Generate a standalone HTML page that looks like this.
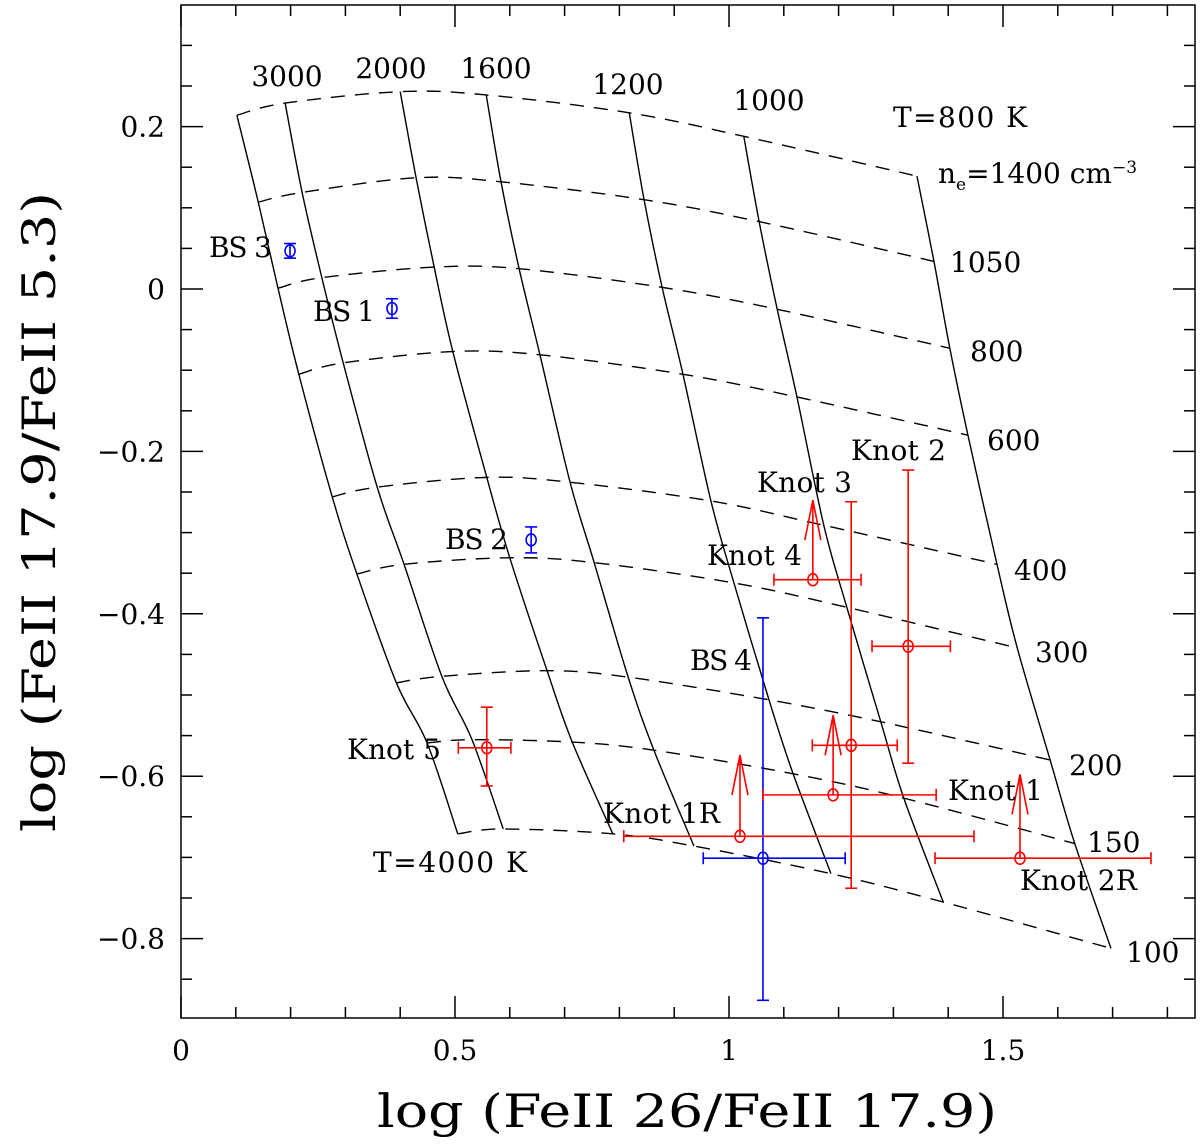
<!DOCTYPE html>
<html><head><meta charset="utf-8"><style>
html,body{margin:0;padding:0;background:#fff;}
svg{display:block;font-family:"DejaVu Serif","Liberation Serif",serif;}
</style></head><body>
<svg id="chart" width="1200" height="1146" viewBox="0 0 1200 1146" xmlns="http://www.w3.org/2000/svg">
<g id="grid"></g>
<g id="pts"></g>
<rect x="181" y="5" width="1014" height="1013" fill="none" stroke="#000" stroke-width="1.5"/>
<g id="ticks"></g>
<g font-size="28" fill="#000">
<text x="287" y="86" text-anchor="middle">3000</text>
<text x="391" y="78" text-anchor="middle">2000</text>
<text x="496" y="78" text-anchor="middle">1600</text>
<text x="628" y="94" text-anchor="middle">1200</text>
<text x="769" y="110" text-anchor="middle">1000</text>
<text x="893" y="127" textLength="134">T=800 K</text>
<text x="938" y="183">n<tspan font-size="17" dy="7">e</tspan><tspan dy="-7">=1400 cm</tspan><tspan font-size="17" dy="-10">−3</tspan></text>
<text x="950" y="272">1050</text>
<text x="970" y="361">800</text>
<text x="987" y="450">600</text>
<text x="1014" y="580">400</text>
<text x="1035" y="662">300</text>
<text x="1069" y="775">200</text>
<text x="1087" y="852">150</text>
<text x="1126" y="962">100</text>
<text x="373" y="872" textLength="154">T=4000 K</text>
<text x="209" y="257" textLength="63">BS 3</text>
<text x="313" y="321" textLength="62">BS 1</text>
<text x="445" y="549" textLength="63">BS 2</text>
<text x="690" y="670" textLength="62">BS 4</text>
<text x="347" y="759" textLength="94">Knot 5</text>
<text x="603" y="823" textLength="117">Knot 1R</text>
<text x="948" y="800" textLength="95">Knot 1</text>
<text x="1020" y="890" textLength="117">Knot 2R</text>
<text x="707" y="565" textLength="95">Knot 4</text>
<text x="757" y="492" textLength="95">Knot 3</text>
<text x="851" y="460" textLength="95">Knot 2</text>
</g>
<g id="ticklabels" font-size="28" fill="#000"></g>
<text x="377" y="1127" font-size="46" textLength="620" lengthAdjust="spacingAndGlyphs">log (FeII 26/FeII 17.9)</text>
<text transform="translate(55,832) rotate(-90)" font-size="46" textLength="640" lengthAdjust="spacingAndGlyphs">log (FeII 17.9/FeII 5.3)</text>
</svg>
<script>
const temps=[4000,3000,2000,1600,1200,1000,800];
const dens=[1400,1050,800,600,400,300,200,150,100];
// grid node x per density row (columns = temps)
const gridX=[
[0.102,0.190,0.400,0.557,0.818,1.027,1.343],
[0.141,0.221,0.429,0.584,0.845,1.055,1.374],
[0.177,0.257,0.462,0.617,0.878,1.088,1.403],
[0.215,0.296,0.496,0.655,0.916,1.124,1.436],
[0.276,0.358,0.558,0.710,0.967,1.173,1.489],
[0.321,0.407,0.600,0.754,1.009,1.215,1.526],
[0.393,0.476,0.668,0.816,1.073,1.277,1.586],
[0.449,0.531,0.714,0.863,1.117,1.319,1.631],
[0.505,0.588,0.788,0.936,1.186,1.391,1.697]];
const gridY=[
[0.214,0.229,0.243,0.239,0.217,0.188,0.139],
[0.107,0.119,0.137,0.132,0.110,0.083,0.034],
[0.001,0.014,0.027,0.025,0.002,-0.025,-0.073],
[-0.105,-0.091,-0.077,-0.081,-0.105,-0.133,-0.180],
[-0.256,-0.244,-0.232,-0.238,-0.261,-0.291,-0.339],
[-0.351,-0.339,-0.331,-0.337,-0.362,-0.392,-0.442],
[-0.485,-0.477,-0.470,-0.478,-0.506,-0.533,-0.580],
[-0.559,-0.555,-0.558,-0.568,-0.597,-0.627,-0.683],
[-0.671,-0.665,-0.671,-0.686,-0.720,-0.755,-0.812]];
// observations
const obsNames=["BS 3","BS 1","BS 2","BS 4","Knot 5","Knot 1R","Knot 1","Knot 3/4","Knot 2","Knot 2R"];
const obsColor=["blue","blue","blue","blue","red","red","red","red","red","red"];
const obsX=[0.199,0.385,0.639,1.062,0.558,1.020,1.190,1.153,1.327,1.531];
const obsY=[0.047,-0.024,-0.309,-0.701,-0.565,-0.674,-0.623,-0.358,-0.440,-0.701];
const obsXLo=[0,0,0,0.109,0.052,0.212,0.128,0.071,0.066,0.155];
const obsXHi=[0,0,0,0.150,0.044,0.427,0.188,0.088,0.077,0.239];
const obsYLo=[0.009,0.012,0.016,0.175,0.047,0,0,0,0.144,0];
const obsYHi=[0.009,0.012,0.016,0.296,0.050,0,0,0,0.217,0];
const obsArrowTo=[null,null,null,null,null,-0.574,-0.525,-0.260,null,-0.598];
// extra point (central wide y-error)
const exX=[1.223];const exY=[-0.562];const exXLo=[0.071];const exXHi=[0.084];const exYLo=[0.176];const exYHi=[0.300];
const xTicks=[0,0.5,1,1.5];
const yTicks=[0.2,0,-0.2,-0.4,-0.6,-0.8];

const X=v=>181+v*548, Y=v=>289-v*812;
const NS="http://www.w3.org/2000/svg";
function mk(tag,attrs,parent){const e=document.createElementNS(NS,tag);for(const k in attrs)e.setAttribute(k,attrs[k]);parent.appendChild(e);return e;}
function smooth(pts){let d=`M${pts[0][0]},${pts[0][1]}`;for(let i=0;i<pts.length-1;i++){const p0=pts[i-1]||pts[i],p1=pts[i],p2=pts[i+1],p3=pts[i+2]||p2;
d+=` C${p1[0]+(p2[0]-p0[0])/6},${p1[1]+(p2[1]-p0[1])/6} ${p2[0]-(p3[0]-p1[0])/6},${p2[1]-(p3[1]-p1[1])/6} ${p2[0]},${p2[1]}`;}return d;}
const grid=document.getElementById('grid');
dens.forEach((n,r)=>{const pts=gridX[r].map((x,c)=>[X(x),Y(gridY[r][c])]);
const p=mk('path',{d:smooth(pts),fill:'none',stroke:'#000','stroke-width':1.4,'stroke-dasharray':'14,10'},grid);

});
temps.forEach((t,c)=>{const pts=dens.map((n,r)=>[X(gridX[r][c]),Y(gridY[r][c])]);
const p=mk('path',{d:smooth(pts),fill:'none',stroke:'#000','stroke-width':1.4},grid);

});
const pg=document.getElementById('pts');
function errPoint(x,y,xl,xh,yl,yh,col,arrow,name){const g=mk('g',{stroke:col,'stroke-width':1.6,fill:'none'},pg);


const cx=X(x),cy=Y(y),cap=6;
if(xl||xh){mk('line',{x1:X(x-xl),y1:cy,x2:X(x+xh),y2:cy},g);mk('line',{x1:X(x-xl),y1:cy-cap,x2:X(x-xl),y2:cy+cap},g);mk('line',{x1:X(x+xh),y1:cy-cap,x2:X(x+xh),y2:cy+cap},g);}
if(yl||yh){mk('line',{x1:cx,y1:Y(y+yh),x2:cx,y2:Y(y-yl)},g);mk('line',{x1:cx-cap,y1:Y(y+yh),x2:cx+cap,y2:Y(y+yh)},g);mk('line',{x1:cx-cap,y1:Y(y-yl),x2:cx+cap,y2:Y(y-yl)},g);}
if(arrow!=null){const ty=Y(arrow);mk('line',{x1:cx,y1:cy,x2:cx,y2:ty},g);mk('polyline',{points:`${cx-8},${ty+40} ${cx},${ty} ${cx+8},${ty+40}`},g);}
mk('ellipse',{cx:cx,cy:cy,rx:5,ry:6,fill:'none'},g);}
obsNames.forEach((nm,i)=>errPoint(obsX[i],obsY[i],obsXLo[i],obsXHi[i],obsYLo[i],obsYHi[i],obsColor[i],obsArrowTo[i],'point-'+nm.toLowerCase().replace(/[^a-z0-9]+/g,'-')));
exX.forEach((x,i)=>errPoint(x,exY[i],exXLo[i],exXHi[i],exYLo[i],exYHi[i],'red',null,'point-knot-extra'));
// ticks
const tg=document.getElementById('ticks');
function tick(x1,y1,x2,y2){mk('line',{x1,y1,x2,y2,stroke:'#000','stroke-width':1.5},tg);}
for(let k=0;k<=18;k++){const v=k/10,px=X(v);if(px>1195)break;const L=(k%5===0)?22:11;tick(px,1018,px,1018-L);tick(px,5,px,5+L);}
for(let k=-18;k<=7;k++){const v=k*0.05,py=Y(v);if(py<5||py>1018)continue;const L=(k%4===0)?22:11;tick(181,py,181+L,py);tick(1195,py,1195-L,py);}
const tl=document.getElementById('ticklabels');
xTicks.forEach(v=>{const t=mk('text',{x:X(v),y:1060,'text-anchor':'middle'},tl);t.textContent=String(v);

});
yTicks.forEach(v=>{const t=mk('text',{x:165,y:Y(v)+10,'text-anchor':'end'},tl);t.textContent=(v<0?'−':'')+String(Math.abs(v));

});
</script>
</body></html>
